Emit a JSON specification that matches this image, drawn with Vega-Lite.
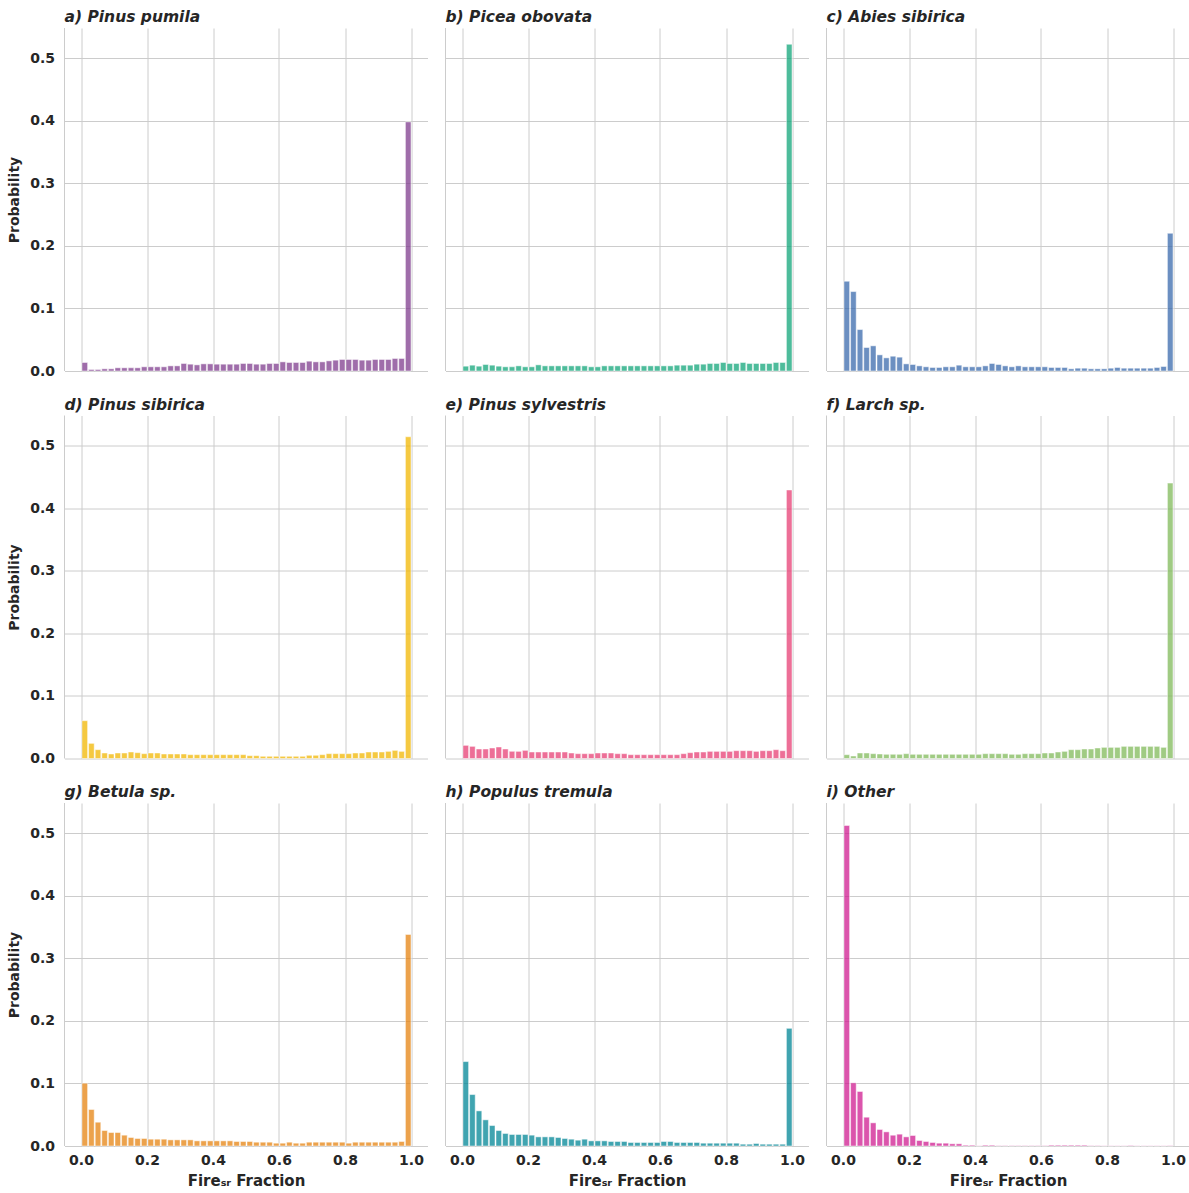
{
"$schema":"https://vega.github.io/schema/vega-lite/v6.json",
"background":"white",
"padding":{"left":7.5,"top":10,"right":0,"bottom":0},
"data":{"values":[
{"sp":"a) Pinus pumila","x":0.01,"p":0.0136},{"sp":"a) Pinus pumila","x":0.03,"p":0.0024},{"sp":"a) Pinus pumila","x":0.05,"p":0.0024},{"sp":"a) Pinus pumila","x":0.07,"p":0.0035},{"sp":"a) Pinus pumila","x":0.09,"p":0.0035},{"sp":"a) Pinus pumila","x":0.11,"p":0.0051},{"sp":"a) Pinus pumila","x":0.13,"p":0.0051},{"sp":"a) Pinus pumila","x":0.15,"p":0.0051},{"sp":"a) Pinus pumila","x":0.17,"p":0.0051},{"sp":"a) Pinus pumila","x":0.19,"p":0.0067},
{"sp":"a) Pinus pumila","x":0.21,"p":0.0067},{"sp":"a) Pinus pumila","x":0.23,"p":0.0067},{"sp":"a) Pinus pumila","x":0.25,"p":0.0067},{"sp":"a) Pinus pumila","x":0.27,"p":0.0082},{"sp":"a) Pinus pumila","x":0.29,"p":0.0082},{"sp":"a) Pinus pumila","x":0.31,"p":0.012},{"sp":"a) Pinus pumila","x":0.33,"p":0.0109},{"sp":"a) Pinus pumila","x":0.35,"p":0.0098},{"sp":"a) Pinus pumila","x":0.37,"p":0.0114},{"sp":"a) Pinus pumila","x":0.39,"p":0.0114},
{"sp":"a) Pinus pumila","x":0.41,"p":0.0109},{"sp":"a) Pinus pumila","x":0.43,"p":0.0109},{"sp":"a) Pinus pumila","x":0.45,"p":0.0109},{"sp":"a) Pinus pumila","x":0.47,"p":0.0109},{"sp":"a) Pinus pumila","x":0.49,"p":0.012},{"sp":"a) Pinus pumila","x":0.51,"p":0.012},{"sp":"a) Pinus pumila","x":0.53,"p":0.0109},{"sp":"a) Pinus pumila","x":0.55,"p":0.0109},{"sp":"a) Pinus pumila","x":0.57,"p":0.012},{"sp":"a) Pinus pumila","x":0.59,"p":0.012},
{"sp":"a) Pinus pumila","x":0.61,"p":0.0146},{"sp":"a) Pinus pumila","x":0.63,"p":0.0136},{"sp":"a) Pinus pumila","x":0.65,"p":0.0136},{"sp":"a) Pinus pumila","x":0.67,"p":0.0136},{"sp":"a) Pinus pumila","x":0.69,"p":0.0157},{"sp":"a) Pinus pumila","x":0.71,"p":0.0146},{"sp":"a) Pinus pumila","x":0.73,"p":0.0146},{"sp":"a) Pinus pumila","x":0.75,"p":0.0162},{"sp":"a) Pinus pumila","x":0.77,"p":0.0173},{"sp":"a) Pinus pumila","x":0.79,"p":0.0184},
{"sp":"a) Pinus pumila","x":0.81,"p":0.0184},{"sp":"a) Pinus pumila","x":0.83,"p":0.0184},{"sp":"a) Pinus pumila","x":0.85,"p":0.0173},{"sp":"a) Pinus pumila","x":0.87,"p":0.0173},{"sp":"a) Pinus pumila","x":0.89,"p":0.0184},{"sp":"a) Pinus pumila","x":0.91,"p":0.0184},{"sp":"a) Pinus pumila","x":0.93,"p":0.0184},{"sp":"a) Pinus pumila","x":0.95,"p":0.02},{"sp":"a) Pinus pumila","x":0.97,"p":0.02},{"sp":"a) Pinus pumila","x":0.99,"p":0.398},
{"sp":"b) Picea obovata","x":0.01,"p":0.0077},{"sp":"b) Picea obovata","x":0.03,"p":0.0093},{"sp":"b) Picea obovata","x":0.05,"p":0.0077},{"sp":"b) Picea obovata","x":0.07,"p":0.0104},{"sp":"b) Picea obovata","x":0.09,"p":0.0093},{"sp":"b) Picea obovata","x":0.11,"p":0.0077},{"sp":"b) Picea obovata","x":0.13,"p":0.0067},{"sp":"b) Picea obovata","x":0.15,"p":0.0067},{"sp":"b) Picea obovata","x":0.17,"p":0.0082},{"sp":"b) Picea obovata","x":0.19,"p":0.0067},
{"sp":"b) Picea obovata","x":0.21,"p":0.0067},{"sp":"b) Picea obovata","x":0.23,"p":0.0098},{"sp":"b) Picea obovata","x":0.25,"p":0.0082},{"sp":"b) Picea obovata","x":0.27,"p":0.0082},{"sp":"b) Picea obovata","x":0.29,"p":0.0082},{"sp":"b) Picea obovata","x":0.31,"p":0.0082},{"sp":"b) Picea obovata","x":0.33,"p":0.0082},{"sp":"b) Picea obovata","x":0.35,"p":0.0082},{"sp":"b) Picea obovata","x":0.37,"p":0.0082},{"sp":"b) Picea obovata","x":0.39,"p":0.0067},
{"sp":"b) Picea obovata","x":0.41,"p":0.0067},{"sp":"b) Picea obovata","x":0.43,"p":0.0082},{"sp":"b) Picea obovata","x":0.45,"p":0.0082},{"sp":"b) Picea obovata","x":0.47,"p":0.0082},{"sp":"b) Picea obovata","x":0.49,"p":0.0082},{"sp":"b) Picea obovata","x":0.51,"p":0.0082},{"sp":"b) Picea obovata","x":0.53,"p":0.0082},{"sp":"b) Picea obovata","x":0.55,"p":0.0082},{"sp":"b) Picea obovata","x":0.57,"p":0.0082},{"sp":"b) Picea obovata","x":0.59,"p":0.0082},
{"sp":"b) Picea obovata","x":0.61,"p":0.0082},{"sp":"b) Picea obovata","x":0.63,"p":0.0082},{"sp":"b) Picea obovata","x":0.65,"p":0.0093},{"sp":"b) Picea obovata","x":0.67,"p":0.0093},{"sp":"b) Picea obovata","x":0.69,"p":0.0093},{"sp":"b) Picea obovata","x":0.71,"p":0.0109},{"sp":"b) Picea obovata","x":0.73,"p":0.0109},{"sp":"b) Picea obovata","x":0.75,"p":0.012},{"sp":"b) Picea obovata","x":0.77,"p":0.012},{"sp":"b) Picea obovata","x":0.79,"p":0.0136},
{"sp":"b) Picea obovata","x":0.81,"p":0.012},{"sp":"b) Picea obovata","x":0.83,"p":0.012},{"sp":"b) Picea obovata","x":0.85,"p":0.0136},{"sp":"b) Picea obovata","x":0.87,"p":0.012},{"sp":"b) Picea obovata","x":0.89,"p":0.012},{"sp":"b) Picea obovata","x":0.91,"p":0.012},{"sp":"b) Picea obovata","x":0.93,"p":0.012},{"sp":"b) Picea obovata","x":0.95,"p":0.0136},{"sp":"b) Picea obovata","x":0.97,"p":0.0136},{"sp":"b) Picea obovata","x":0.99,"p":0.522},
{"sp":"c) Abies sibirica","x":0.01,"p":0.1434},{"sp":"c) Abies sibirica","x":0.03,"p":0.1269},{"sp":"c) Abies sibirica","x":0.05,"p":0.0662},{"sp":"c) Abies sibirica","x":0.07,"p":0.0375},{"sp":"c) Abies sibirica","x":0.09,"p":0.0402},{"sp":"c) Abies sibirica","x":0.11,"p":0.0258},{"sp":"c) Abies sibirica","x":0.13,"p":0.021},{"sp":"c) Abies sibirica","x":0.15,"p":0.0237},{"sp":"c) Abies sibirica","x":0.17,"p":0.0221},{"sp":"c) Abies sibirica","x":0.19,"p":0.0114},
{"sp":"c) Abies sibirica","x":0.21,"p":0.0104},{"sp":"c) Abies sibirica","x":0.23,"p":0.0082},{"sp":"c) Abies sibirica","x":0.25,"p":0.0067},{"sp":"c) Abies sibirica","x":0.27,"p":0.0056},{"sp":"c) Abies sibirica","x":0.29,"p":0.0056},{"sp":"c) Abies sibirica","x":0.31,"p":0.0067},{"sp":"c) Abies sibirica","x":0.33,"p":0.0067},{"sp":"c) Abies sibirica","x":0.35,"p":0.0093},{"sp":"c) Abies sibirica","x":0.37,"p":0.0067},{"sp":"c) Abies sibirica","x":0.39,"p":0.0067},
{"sp":"c) Abies sibirica","x":0.41,"p":0.0067},{"sp":"c) Abies sibirica","x":0.43,"p":0.0082},{"sp":"c) Abies sibirica","x":0.45,"p":0.012},{"sp":"c) Abies sibirica","x":0.47,"p":0.0104},{"sp":"c) Abies sibirica","x":0.49,"p":0.0082},{"sp":"c) Abies sibirica","x":0.51,"p":0.0067},{"sp":"c) Abies sibirica","x":0.53,"p":0.0082},{"sp":"c) Abies sibirica","x":0.55,"p":0.0067},{"sp":"c) Abies sibirica","x":0.57,"p":0.0067},{"sp":"c) Abies sibirica","x":0.59,"p":0.0067},
{"sp":"c) Abies sibirica","x":0.61,"p":0.0067},{"sp":"c) Abies sibirica","x":0.63,"p":0.0056},{"sp":"c) Abies sibirica","x":0.65,"p":0.0056},{"sp":"c) Abies sibirica","x":0.67,"p":0.0056},{"sp":"c) Abies sibirica","x":0.69,"p":0.0035},{"sp":"c) Abies sibirica","x":0.71,"p":0.0045},{"sp":"c) Abies sibirica","x":0.73,"p":0.0045},{"sp":"c) Abies sibirica","x":0.75,"p":0.0035},{"sp":"c) Abies sibirica","x":0.77,"p":0.0035},{"sp":"c) Abies sibirica","x":0.79,"p":0.0035},
{"sp":"c) Abies sibirica","x":0.81,"p":0.0045},{"sp":"c) Abies sibirica","x":0.83,"p":0.0056},{"sp":"c) Abies sibirica","x":0.85,"p":0.0045},{"sp":"c) Abies sibirica","x":0.87,"p":0.0045},{"sp":"c) Abies sibirica","x":0.89,"p":0.0045},{"sp":"c) Abies sibirica","x":0.91,"p":0.0045},{"sp":"c) Abies sibirica","x":0.93,"p":0.0045},{"sp":"c) Abies sibirica","x":0.95,"p":0.0056},{"sp":"c) Abies sibirica","x":0.97,"p":0.0072},{"sp":"c) Abies sibirica","x":0.99,"p":0.22},
{"sp":"d) Pinus sibirica","x":0.01,"p":0.0604},{"sp":"d) Pinus sibirica","x":0.03,"p":0.0242},{"sp":"d) Pinus sibirica","x":0.05,"p":0.0141},{"sp":"d) Pinus sibirica","x":0.07,"p":0.0088},{"sp":"d) Pinus sibirica","x":0.09,"p":0.0072},{"sp":"d) Pinus sibirica","x":0.11,"p":0.0088},{"sp":"d) Pinus sibirica","x":0.13,"p":0.0088},{"sp":"d) Pinus sibirica","x":0.15,"p":0.0104},{"sp":"d) Pinus sibirica","x":0.17,"p":0.0093},{"sp":"d) Pinus sibirica","x":0.19,"p":0.0077},
{"sp":"d) Pinus sibirica","x":0.21,"p":0.0088},{"sp":"d) Pinus sibirica","x":0.23,"p":0.0088},{"sp":"d) Pinus sibirica","x":0.25,"p":0.0072},{"sp":"d) Pinus sibirica","x":0.27,"p":0.0072},{"sp":"d) Pinus sibirica","x":0.29,"p":0.0072},{"sp":"d) Pinus sibirica","x":0.31,"p":0.0072},{"sp":"d) Pinus sibirica","x":0.33,"p":0.0061},{"sp":"d) Pinus sibirica","x":0.35,"p":0.0061},{"sp":"d) Pinus sibirica","x":0.37,"p":0.0061},{"sp":"d) Pinus sibirica","x":0.39,"p":0.0061},
{"sp":"d) Pinus sibirica","x":0.41,"p":0.0061},{"sp":"d) Pinus sibirica","x":0.43,"p":0.0061},{"sp":"d) Pinus sibirica","x":0.45,"p":0.0061},{"sp":"d) Pinus sibirica","x":0.47,"p":0.0061},{"sp":"d) Pinus sibirica","x":0.49,"p":0.0061},{"sp":"d) Pinus sibirica","x":0.51,"p":0.0045},{"sp":"d) Pinus sibirica","x":0.53,"p":0.0045},{"sp":"d) Pinus sibirica","x":0.55,"p":0.0035},{"sp":"d) Pinus sibirica","x":0.57,"p":0.0035},{"sp":"d) Pinus sibirica","x":0.59,"p":0.0035},
{"sp":"d) Pinus sibirica","x":0.61,"p":0.0035},{"sp":"d) Pinus sibirica","x":0.63,"p":0.0035},{"sp":"d) Pinus sibirica","x":0.65,"p":0.0035},{"sp":"d) Pinus sibirica","x":0.67,"p":0.0035},{"sp":"d) Pinus sibirica","x":0.69,"p":0.0051},{"sp":"d) Pinus sibirica","x":0.71,"p":0.0051},{"sp":"d) Pinus sibirica","x":0.73,"p":0.0061},{"sp":"d) Pinus sibirica","x":0.75,"p":0.0077},{"sp":"d) Pinus sibirica","x":0.77,"p":0.0077},{"sp":"d) Pinus sibirica","x":0.79,"p":0.0077},
{"sp":"d) Pinus sibirica","x":0.81,"p":0.0077},{"sp":"d) Pinus sibirica","x":0.83,"p":0.0088},{"sp":"d) Pinus sibirica","x":0.85,"p":0.0088},{"sp":"d) Pinus sibirica","x":0.87,"p":0.0104},{"sp":"d) Pinus sibirica","x":0.89,"p":0.0104},{"sp":"d) Pinus sibirica","x":0.91,"p":0.0104},{"sp":"d) Pinus sibirica","x":0.93,"p":0.0114},{"sp":"d) Pinus sibirica","x":0.95,"p":0.013},{"sp":"d) Pinus sibirica","x":0.97,"p":0.0114},{"sp":"d) Pinus sibirica","x":0.99,"p":0.514},
{"sp":"e) Pinus sylvestris","x":0.01,"p":0.021},{"sp":"e) Pinus sylvestris","x":0.03,"p":0.0194},{"sp":"e) Pinus sylvestris","x":0.05,"p":0.0152},{"sp":"e) Pinus sylvestris","x":0.07,"p":0.0152},{"sp":"e) Pinus sylvestris","x":0.09,"p":0.0168},{"sp":"e) Pinus sylvestris","x":0.11,"p":0.0184},{"sp":"e) Pinus sylvestris","x":0.13,"p":0.0152},{"sp":"e) Pinus sylvestris","x":0.15,"p":0.0114},{"sp":"e) Pinus sylvestris","x":0.17,"p":0.0114},{"sp":"e) Pinus sylvestris","x":0.19,"p":0.013},
{"sp":"e) Pinus sylvestris","x":0.21,"p":0.0104},{"sp":"e) Pinus sylvestris","x":0.23,"p":0.0104},{"sp":"e) Pinus sylvestris","x":0.25,"p":0.0104},{"sp":"e) Pinus sylvestris","x":0.27,"p":0.0104},{"sp":"e) Pinus sylvestris","x":0.29,"p":0.0104},{"sp":"e) Pinus sylvestris","x":0.31,"p":0.0104},{"sp":"e) Pinus sylvestris","x":0.33,"p":0.0088},{"sp":"e) Pinus sylvestris","x":0.35,"p":0.0077},{"sp":"e) Pinus sylvestris","x":0.37,"p":0.0077},{"sp":"e) Pinus sylvestris","x":0.39,"p":0.0077},
{"sp":"e) Pinus sylvestris","x":0.41,"p":0.0088},{"sp":"e) Pinus sylvestris","x":0.43,"p":0.0088},{"sp":"e) Pinus sylvestris","x":0.45,"p":0.0088},{"sp":"e) Pinus sylvestris","x":0.47,"p":0.0077},{"sp":"e) Pinus sylvestris","x":0.49,"p":0.0077},{"sp":"e) Pinus sylvestris","x":0.51,"p":0.0061},{"sp":"e) Pinus sylvestris","x":0.53,"p":0.0061},{"sp":"e) Pinus sylvestris","x":0.55,"p":0.0061},{"sp":"e) Pinus sylvestris","x":0.57,"p":0.0061},{"sp":"e) Pinus sylvestris","x":0.59,"p":0.0061},
{"sp":"e) Pinus sylvestris","x":0.61,"p":0.0061},{"sp":"e) Pinus sylvestris","x":0.63,"p":0.0061},{"sp":"e) Pinus sylvestris","x":0.65,"p":0.0061},{"sp":"e) Pinus sylvestris","x":0.67,"p":0.0077},{"sp":"e) Pinus sylvestris","x":0.69,"p":0.0093},{"sp":"e) Pinus sylvestris","x":0.71,"p":0.0104},{"sp":"e) Pinus sylvestris","x":0.73,"p":0.0104},{"sp":"e) Pinus sylvestris","x":0.75,"p":0.0114},{"sp":"e) Pinus sylvestris","x":0.77,"p":0.0114},{"sp":"e) Pinus sylvestris","x":0.79,"p":0.0114},
{"sp":"e) Pinus sylvestris","x":0.81,"p":0.0114},{"sp":"e) Pinus sylvestris","x":0.83,"p":0.0125},{"sp":"e) Pinus sylvestris","x":0.85,"p":0.0125},{"sp":"e) Pinus sylvestris","x":0.87,"p":0.0125},{"sp":"e) Pinus sylvestris","x":0.89,"p":0.0114},{"sp":"e) Pinus sylvestris","x":0.91,"p":0.0125},{"sp":"e) Pinus sylvestris","x":0.93,"p":0.0125},{"sp":"e) Pinus sylvestris","x":0.95,"p":0.0141},{"sp":"e) Pinus sylvestris","x":0.97,"p":0.0125},{"sp":"e) Pinus sylvestris","x":0.99,"p":0.429},
{"sp":"f) Larch sp.","x":0.01,"p":0.0061},{"sp":"f) Larch sp.","x":0.03,"p":0.004},{"sp":"f) Larch sp.","x":0.05,"p":0.0088},{"sp":"f) Larch sp.","x":0.07,"p":0.0088},{"sp":"f) Larch sp.","x":0.09,"p":0.0077},{"sp":"f) Larch sp.","x":0.11,"p":0.0072},{"sp":"f) Larch sp.","x":0.13,"p":0.0067},{"sp":"f) Larch sp.","x":0.15,"p":0.0067},{"sp":"f) Larch sp.","x":0.17,"p":0.0067},{"sp":"f) Larch sp.","x":0.19,"p":0.0077},
{"sp":"f) Larch sp.","x":0.21,"p":0.0067},{"sp":"f) Larch sp.","x":0.23,"p":0.0067},{"sp":"f) Larch sp.","x":0.25,"p":0.0067},{"sp":"f) Larch sp.","x":0.27,"p":0.0067},{"sp":"f) Larch sp.","x":0.29,"p":0.0067},{"sp":"f) Larch sp.","x":0.31,"p":0.0067},{"sp":"f) Larch sp.","x":0.33,"p":0.0067},{"sp":"f) Larch sp.","x":0.35,"p":0.0067},{"sp":"f) Larch sp.","x":0.37,"p":0.0067},{"sp":"f) Larch sp.","x":0.39,"p":0.0067},
{"sp":"f) Larch sp.","x":0.41,"p":0.0067},{"sp":"f) Larch sp.","x":0.43,"p":0.0077},{"sp":"f) Larch sp.","x":0.45,"p":0.0077},{"sp":"f) Larch sp.","x":0.47,"p":0.0077},{"sp":"f) Larch sp.","x":0.49,"p":0.0077},{"sp":"f) Larch sp.","x":0.51,"p":0.0067},{"sp":"f) Larch sp.","x":0.53,"p":0.0067},{"sp":"f) Larch sp.","x":0.55,"p":0.0077},{"sp":"f) Larch sp.","x":0.57,"p":0.0077},{"sp":"f) Larch sp.","x":0.59,"p":0.0077},
{"sp":"f) Larch sp.","x":0.61,"p":0.0088},{"sp":"f) Larch sp.","x":0.63,"p":0.0088},{"sp":"f) Larch sp.","x":0.65,"p":0.0104},{"sp":"f) Larch sp.","x":0.67,"p":0.0114},{"sp":"f) Larch sp.","x":0.69,"p":0.0141},{"sp":"f) Larch sp.","x":0.71,"p":0.0141},{"sp":"f) Larch sp.","x":0.73,"p":0.0152},{"sp":"f) Larch sp.","x":0.75,"p":0.0152},{"sp":"f) Larch sp.","x":0.77,"p":0.0168},{"sp":"f) Larch sp.","x":0.79,"p":0.0178},
{"sp":"f) Larch sp.","x":0.81,"p":0.0178},{"sp":"f) Larch sp.","x":0.83,"p":0.0178},{"sp":"f) Larch sp.","x":0.85,"p":0.0194},{"sp":"f) Larch sp.","x":0.87,"p":0.0194},{"sp":"f) Larch sp.","x":0.89,"p":0.0194},{"sp":"f) Larch sp.","x":0.91,"p":0.0194},{"sp":"f) Larch sp.","x":0.93,"p":0.0194},{"sp":"f) Larch sp.","x":0.95,"p":0.0194},{"sp":"f) Larch sp.","x":0.97,"p":0.0178},{"sp":"f) Larch sp.","x":0.99,"p":0.44},
{"sp":"g) Betula sp.","x":0.01,"p":0.1003},{"sp":"g) Betula sp.","x":0.03,"p":0.0583},{"sp":"g) Betula sp.","x":0.05,"p":0.038},{"sp":"g) Betula sp.","x":0.07,"p":0.0247},{"sp":"g) Betula sp.","x":0.09,"p":0.0215},{"sp":"g) Betula sp.","x":0.11,"p":0.0215},{"sp":"g) Betula sp.","x":0.13,"p":0.0173},{"sp":"g) Betula sp.","x":0.15,"p":0.0136},{"sp":"g) Betula sp.","x":0.17,"p":0.012},{"sp":"g) Betula sp.","x":0.19,"p":0.012},
{"sp":"g) Betula sp.","x":0.21,"p":0.0109},{"sp":"g) Betula sp.","x":0.23,"p":0.0109},{"sp":"g) Betula sp.","x":0.25,"p":0.0109},{"sp":"g) Betula sp.","x":0.27,"p":0.0098},{"sp":"g) Betula sp.","x":0.29,"p":0.0098},{"sp":"g) Betula sp.","x":0.31,"p":0.0098},{"sp":"g) Betula sp.","x":0.33,"p":0.0098},{"sp":"g) Betula sp.","x":0.35,"p":0.0082},{"sp":"g) Betula sp.","x":0.37,"p":0.0082},{"sp":"g) Betula sp.","x":0.39,"p":0.0082},
{"sp":"g) Betula sp.","x":0.41,"p":0.0082},{"sp":"g) Betula sp.","x":0.43,"p":0.0082},{"sp":"g) Betula sp.","x":0.45,"p":0.0082},{"sp":"g) Betula sp.","x":0.47,"p":0.0072},{"sp":"g) Betula sp.","x":0.49,"p":0.0072},{"sp":"g) Betula sp.","x":0.51,"p":0.0072},{"sp":"g) Betula sp.","x":0.53,"p":0.0061},{"sp":"g) Betula sp.","x":0.55,"p":0.0061},{"sp":"g) Betula sp.","x":0.57,"p":0.0061},{"sp":"g) Betula sp.","x":0.59,"p":0.0045},
{"sp":"g) Betula sp.","x":0.61,"p":0.0045},{"sp":"g) Betula sp.","x":0.63,"p":0.0061},{"sp":"g) Betula sp.","x":0.65,"p":0.0045},{"sp":"g) Betula sp.","x":0.67,"p":0.0045},{"sp":"g) Betula sp.","x":0.69,"p":0.0061},{"sp":"g) Betula sp.","x":0.71,"p":0.0061},{"sp":"g) Betula sp.","x":0.73,"p":0.0061},{"sp":"g) Betula sp.","x":0.75,"p":0.0061},{"sp":"g) Betula sp.","x":0.77,"p":0.0061},{"sp":"g) Betula sp.","x":0.79,"p":0.0061},
{"sp":"g) Betula sp.","x":0.81,"p":0.0045},{"sp":"g) Betula sp.","x":0.83,"p":0.0061},{"sp":"g) Betula sp.","x":0.85,"p":0.0061},{"sp":"g) Betula sp.","x":0.87,"p":0.0061},{"sp":"g) Betula sp.","x":0.89,"p":0.0061},{"sp":"g) Betula sp.","x":0.91,"p":0.0061},{"sp":"g) Betula sp.","x":0.93,"p":0.0061},{"sp":"g) Betula sp.","x":0.95,"p":0.0061},{"sp":"g) Betula sp.","x":0.97,"p":0.0072},{"sp":"g) Betula sp.","x":0.99,"p":0.338},
{"sp":"h) Populus tremula","x":0.01,"p":0.1349},{"sp":"h) Populus tremula","x":0.03,"p":0.0822},{"sp":"h) Populus tremula","x":0.05,"p":0.0561},{"sp":"h) Populus tremula","x":0.07,"p":0.0418},{"sp":"h) Populus tremula","x":0.09,"p":0.0327},{"sp":"h) Populus tremula","x":0.11,"p":0.0247},{"sp":"h) Populus tremula","x":0.13,"p":0.02},{"sp":"h) Populus tremula","x":0.15,"p":0.0184},{"sp":"h) Populus tremula","x":0.17,"p":0.0184},{"sp":"h) Populus tremula","x":0.19,"p":0.0184},
{"sp":"h) Populus tremula","x":0.21,"p":0.0173},{"sp":"h) Populus tremula","x":0.23,"p":0.0146},{"sp":"h) Populus tremula","x":0.25,"p":0.0146},{"sp":"h) Populus tremula","x":0.27,"p":0.0146},{"sp":"h) Populus tremula","x":0.29,"p":0.0136},{"sp":"h) Populus tremula","x":0.31,"p":0.012},{"sp":"h) Populus tremula","x":0.33,"p":0.0109},{"sp":"h) Populus tremula","x":0.35,"p":0.0093},{"sp":"h) Populus tremula","x":0.37,"p":0.0109},{"sp":"h) Populus tremula","x":0.39,"p":0.0082},
{"sp":"h) Populus tremula","x":0.41,"p":0.0082},{"sp":"h) Populus tremula","x":0.43,"p":0.0082},{"sp":"h) Populus tremula","x":0.45,"p":0.0072},{"sp":"h) Populus tremula","x":0.47,"p":0.0072},{"sp":"h) Populus tremula","x":0.49,"p":0.0072},{"sp":"h) Populus tremula","x":0.51,"p":0.0056},{"sp":"h) Populus tremula","x":0.53,"p":0.0056},{"sp":"h) Populus tremula","x":0.55,"p":0.0056},{"sp":"h) Populus tremula","x":0.57,"p":0.0056},{"sp":"h) Populus tremula","x":0.59,"p":0.0056},
{"sp":"h) Populus tremula","x":0.61,"p":0.0072},{"sp":"h) Populus tremula","x":0.63,"p":0.0072},{"sp":"h) Populus tremula","x":0.65,"p":0.0056},{"sp":"h) Populus tremula","x":0.67,"p":0.0056},{"sp":"h) Populus tremula","x":0.69,"p":0.0056},{"sp":"h) Populus tremula","x":0.71,"p":0.0056},{"sp":"h) Populus tremula","x":0.73,"p":0.0045},{"sp":"h) Populus tremula","x":0.75,"p":0.0045},{"sp":"h) Populus tremula","x":0.77,"p":0.0045},{"sp":"h) Populus tremula","x":0.79,"p":0.0045},
{"sp":"h) Populus tremula","x":0.81,"p":0.0045},{"sp":"h) Populus tremula","x":0.83,"p":0.0045},{"sp":"h) Populus tremula","x":0.85,"p":0.0029},{"sp":"h) Populus tremula","x":0.87,"p":0.0029},{"sp":"h) Populus tremula","x":0.89,"p":0.004},{"sp":"h) Populus tremula","x":0.91,"p":0.0029},{"sp":"h) Populus tremula","x":0.93,"p":0.0029},{"sp":"h) Populus tremula","x":0.95,"p":0.0029},{"sp":"h) Populus tremula","x":0.97,"p":0.0029},{"sp":"h) Populus tremula","x":0.99,"p":0.188},
{"sp":"i) Other","x":0.01,"p":0.512},{"sp":"i) Other","x":0.03,"p":0.1009},{"sp":"i) Other","x":0.05,"p":0.0871},{"sp":"i) Other","x":0.07,"p":0.046},{"sp":"i) Other","x":0.09,"p":0.037},{"sp":"i) Other","x":0.11,"p":0.0264},{"sp":"i) Other","x":0.13,"p":0.0226},{"sp":"i) Other","x":0.15,"p":0.0173},{"sp":"i) Other","x":0.17,"p":0.0189},{"sp":"i) Other","x":0.19,"p":0.0146},
{"sp":"i) Other","x":0.21,"p":0.0168},{"sp":"i) Other","x":0.23,"p":0.0088},{"sp":"i) Other","x":0.25,"p":0.0072},{"sp":"i) Other","x":0.27,"p":0.0056},{"sp":"i) Other","x":0.29,"p":0.0045},{"sp":"i) Other","x":0.31,"p":0.0045},{"sp":"i) Other","x":0.33,"p":0.0035},{"sp":"i) Other","x":0.35,"p":0.0035},{"sp":"i) Other","x":0.37,"p":0.0013},{"sp":"i) Other","x":0.39,"p":0.0013},
{"sp":"i) Other","x":0.41,"p":0.0003},{"sp":"i) Other","x":0.43,"p":0.0013},{"sp":"i) Other","x":0.45,"p":0.0013},{"sp":"i) Other","x":0.47,"p":0.0005},{"sp":"i) Other","x":0.49,"p":0.0005},{"sp":"i) Other","x":0.51,"p":0.0005},{"sp":"i) Other","x":0.53,"p":0.0005},{"sp":"i) Other","x":0.55,"p":0.0005},{"sp":"i) Other","x":0.57,"p":0.0005},{"sp":"i) Other","x":0.59,"p":0.0005},
{"sp":"i) Other","x":0.61,"p":0.0005},{"sp":"i) Other","x":0.63,"p":0.0013},{"sp":"i) Other","x":0.65,"p":0.0013},{"sp":"i) Other","x":0.67,"p":0.0013},{"sp":"i) Other","x":0.69,"p":0.0013},{"sp":"i) Other","x":0.71,"p":0.0013},{"sp":"i) Other","x":0.73,"p":0.0013},{"sp":"i) Other","x":0.75,"p":0.0005},{"sp":"i) Other","x":0.77,"p":0.0005},{"sp":"i) Other","x":0.79,"p":0.0003},
{"sp":"i) Other","x":0.81,"p":0.0003},{"sp":"i) Other","x":0.83,"p":0.0003},{"sp":"i) Other","x":0.85,"p":0.0003},{"sp":"i) Other","x":0.87,"p":0.0008},{"sp":"i) Other","x":0.89,"p":0.0003},{"sp":"i) Other","x":0.91,"p":0.0003},{"sp":"i) Other","x":0.93,"p":0.0003},{"sp":"i) Other","x":0.95,"p":0.0003},{"sp":"i) Other","x":0.97,"p":0.0003},{"sp":"i) Other","x":0.99,"p":0.0005}
]},
"facet":{"field":"sp","type":"nominal",
 "sort":["a) Pinus pumila","b) Picea obovata","c) Abies sibirica","d) Pinus sibirica","e) Pinus sylvestris","f) Larch sp.","g) Betula sp.","h) Populus tremula","i) Other"],
 "header":{"title":null,"labelAnchor":"start","labelAlign":"left","labelFont":"DejaVu Sans","labelFontSize":15.5,"labelFontWeight":"bold","labelFontStyle":"italic","labelColor":"#262626","labelPadding":2}},
"columns":3,
"spacing":{"row":25.5,"column":17},
"spec":{
 "width":363,"height":343,
 "layer":[
  {"mark":{"type":"bar","fillOpacity":0.75,"stroke":"white","strokeOpacity":0.6,"strokeWidth":0.8},
   "encoding":{
    "x":{"field":"x","type":"quantitative","bin":{"extent":[0,1],"step":0.02},"title":"Fireₛᵣ Fraction",
      "scale":{"domain":[-0.05,1.05],"nice":false,"zero":false},
      "axis":{"values":[0,0.2,0.4,0.6,0.8,1.0],"format":".1f","grid":true,"labelPadding":6,"titlePadding":6,"titleFontSize":15}},
    "y":{"aggregate":"sum","field":"p","type":"quantitative","title":"Probability",
      "scale":{"domain":[0,0.548],"nice":false},
      "axis":{"values":[0,0.1,0.2,0.3,0.4,0.5],"format":".1f","grid":true,"labelPadding":9,"titlePadding":8}},
    "color":{"field":"sp","type":"nominal","legend":null,
      "scale":{"domain":["a) Pinus pumila","b) Picea obovata","c) Abies sibirica","d) Pinus sibirica","e) Pinus sylvestris","f) Larch sp.","g) Betula sp.","h) Populus tremula","i) Other"],
               "range":["#7F3C8D","#11A579","#3969AC","#F2B701","#E73F74","#80BA5A","#E68310","#008695","#CF1C90"]}}
   }},
  {"transform":[{"filter":"datum.x == 0.01"}],
   "mark":{"type":"rule","color":"#cccccc","strokeWidth":1},
   "encoding":{"x":{"datum":-0.05}}}
 ]
},
"config":{
 "view":{"stroke":null},
 "font":"DejaVu Sans",
 "axis":{"labelFont":"DejaVu Sans","labelFontWeight":"bold","labelFontSize":14,"labelColor":"#262626",
   "titleFont":"DejaVu Sans","titleFontWeight":"bold","titleFontSize":14,"titleColor":"#262626",
   "gridColor":"#cccccc","gridWidth":1,"ticks":false,"domain":false}
}
}
